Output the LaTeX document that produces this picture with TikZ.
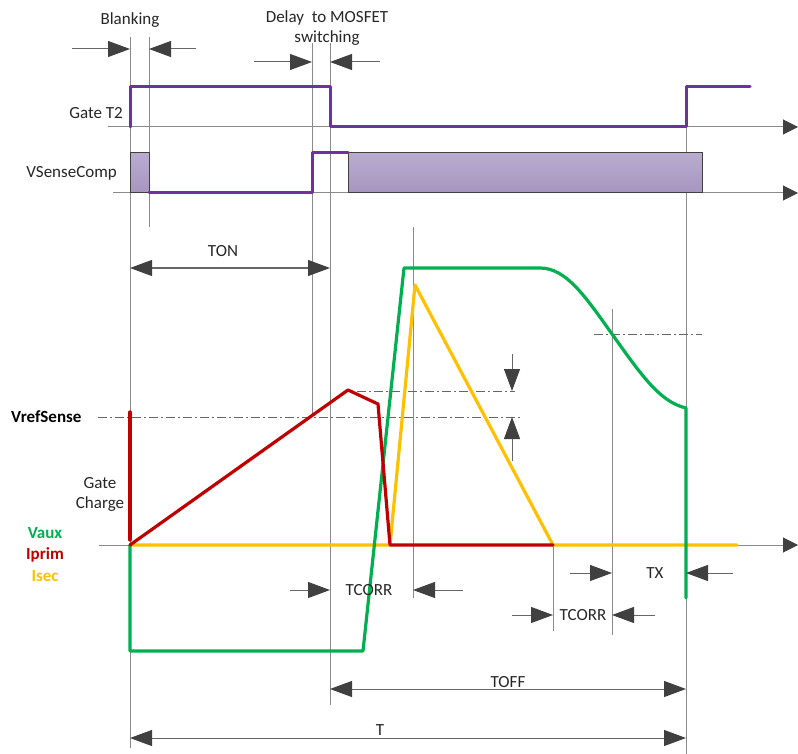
\documentclass[tikz,border=0pt]{standalone}
\usepackage{fontspec}
\setmainfont{Carlito}
\usepackage{xcolor}
\usetikzlibrary{arrows.meta,positioning,calc}

\definecolor{gatepurple}{HTML}{7030A0}
\definecolor{vauxgreen}{HTML}{00B050}
\definecolor{iprimred}{HTML}{C00000}
\definecolor{isecyellow}{HTML}{FFC000}
\definecolor{guidegray}{HTML}{8A8A8A}
\definecolor{dimgray}{HTML}{404040}
\definecolor{comptop}{HTML}{B9ABD0}
\definecolor{compbot}{HTML}{A696C0}

\begin{document}
\begin{tikzpicture}[x=1pt, y=-1pt,
  lbl/.style={font=\fontsize{17}{20}\selectfont, text=black!85, inner sep=1pt, align=center},
  key/.style={lbl, font=\fontsize{17}{20}\selectfont\bfseries},
  guide/.style={draw=guidegray, line width=1pt},
  axis/.style={draw=guidegray, line width=1pt, -{Triangle[length=15pt, width=15pt, color=dimgray]}},
  dimarr/.style={draw=dimgray!80, line width=1pt, -{Triangle[length=22pt, width=16pt, color=dimgray]}},
  dimboth/.style={dimarr, {Triangle[length=22pt, width=16pt, color=dimgray]}-{Triangle[length=22pt, width=16pt, color=dimgray]}},
  level/.style={draw=dimgray!80, line width=1pt, dash pattern=on 9pt off 3pt on 2pt off 3pt},
  wave/.style={line width=3.2pt, line join=round, line cap=round},
  compbox/.style={draw=dimgray, line width=1pt, top color=comptop, bottom color=compbot},
]
  \useasboundingbox (0,0) rectangle (798,754);

  % time markers
  \draw[guide] (130,37) -- (130,748);
  \draw[guide] (149,37) -- (149,227);
  \draw[guide] (312,43) -- (312,415);
  \draw[guide] (330,43) -- (330,705);
  \draw[guide] (413,227) -- (413,598);
  \draw[guide] (553,545) -- (553,631);
  \draw[guide] (612,309) -- (612,635);
  \draw[guide] (686,85) -- (686,754);

  % axes
  \coordinate (gax0) at (108,127);  \coordinate (gax1) at (798,127);
  \coordinate (cax0) at (113,193);  \coordinate (cax1) at (798,193);
  \coordinate (max0) at (99,545);   \coordinate (max1) at (798,545);
  \draw[axis] (gax0) -- (gax1);
  \draw[axis] (cax0) -- (cax1);
  \draw[axis] (max0) -- (max1);

  % comparator output
  \draw[compbox] (130,153) rectangle (149,193);
  \draw[compbox] (348,153) rectangle (702,193);
  \draw[wave, gatepurple, line width=3pt] (149,193) -- (312,193) -- (312,153) -- (348,153);

  % gate drive
  \draw[wave, gatepurple, line width=3pt] (130,127) -- (130,87) -- (330,87) -- (330,127)
    -- (686,127) -- (686,87) -- (750,87);

  % threshold levels
  \draw[level] (98,417) -- (522,417);
  \draw[level] (357,391) -- (515,391);
  \draw[level] (594,334) -- (702,334);

  % waveforms
  \draw[wave, isecyellow] (130,545) -- (390,545) -- (415,285) -- (553,545) -- (737,545);
  \draw[wave, vauxgreen] (130,545) -- (130,651) -- (363,651) -- (404,268) -- (540,268)
    .. controls (566,268) and (585,296) .. (612,334)
    .. controls (642,376) and (660,402) .. (686,408) -- (686,598);
  \draw[wave, iprimred] (130,412) -- (130,540);
  \draw[wave, iprimred] (130,545) -- (348,390) -- (378,404) -- (390,545) -- (553,545);

  % labels
  \node[lbl] (blank) at (130,20) {Blanking};
  \node[lbl] (delay) at (327,28) {Delay\ \ to MOSFET\\switching};
  \node[lbl, anchor=east] (gate) at (124,113) {Gate T2};
  \node[lbl, anchor=east] (comp) at (118,173) {VSenseComp};
  \node[lbl] (ton) at (223,251) {TON};
  \node[key, anchor=west, text=black] (vref) at (10,417) {VrefSense};
  \node[lbl] (gchg) at (100,494) {Gate\\Charge};
  \node[key, text=vauxgreen] (vaux) at (45,533) {Vaux};
  \node[key, text=iprimred] (iprim) at (45,555) {Iprim};
  \node[key, text=isecyellow] (isec) at (45,576) {Isec};
  \node[lbl] (tcorra) at (369,590) {TCORR};
  \node[lbl] (tcorrb) at (583,615) {TCORR};
  \node[lbl] (tx) at (655,573) {TX};
  \node[lbl] (toff) at (508,682) {TOFF};
  \node[lbl] (tper) at (380,730) {T};

  % dimension arrows
  \coordinate (blk1) at (72,49);   \coordinate (blk2) at (130,49);
  \coordinate (blk3) at (196,49);  \coordinate (blk4) at (149,49);
  \draw[dimarr] (blk1) -- (blk2);
  \draw[dimarr] (blk3) -- (blk4);
  \coordinate (dly1) at (254,62);  \coordinate (dly2) at (312,62);
  \coordinate (dly3) at (380,62);  \coordinate (dly4) at (330,62);
  \draw[dimarr] (dly1) -- (dly2);
  \draw[dimarr] (dly3) -- (dly4);
  \coordinate (ton1) at (130,268); \coordinate (ton2) at (330,268);
  \draw[dimboth] (ton1) -- (ton2);
  \coordinate (lvl1) at (512,354); \coordinate (lvl2) at (512,391);
  \coordinate (lvl3) at (512,461); \coordinate (lvl4) at (512,417);
  \draw[dimarr] (lvl1) -- (lvl2);
  \draw[dimarr] (lvl3) -- (lvl4);
  \coordinate (tca1) at (290,590); \coordinate (tca2) at (330,590);
  \coordinate (tca3) at (463,590); \coordinate (tca4) at (413,590);
  \draw[dimarr] (tca1) -- (tca2);
  \draw[dimarr] (tca3) -- (tca4);
  \coordinate (tcb1) at (512,615); \coordinate (tcb2) at (553,615);
  \coordinate (tcb3) at (655,615); \coordinate (tcb4) at (612,615);
  \draw[dimarr] (tcb1) -- (tcb2);
  \draw[dimarr] (tcb3) -- (tcb4);
  \coordinate (tx1) at (570,573);  \coordinate (tx2) at (612,573);
  \coordinate (tx3) at (733,573);  \coordinate (tx4) at (686,573);
  \draw[dimarr] (tx1) -- (tx2);
  \draw[dimarr] (tx3) -- (tx4);
  \coordinate (toff1) at (330,689); \coordinate (toff2) at (686,689);
  \draw[dimboth] (toff1) -- (toff2);
  \coordinate (per1) at (130,738); \coordinate (per2) at (686,738);
  \draw[dimboth] (per1) -- (per2);
\end{tikzpicture}
\end{document}
